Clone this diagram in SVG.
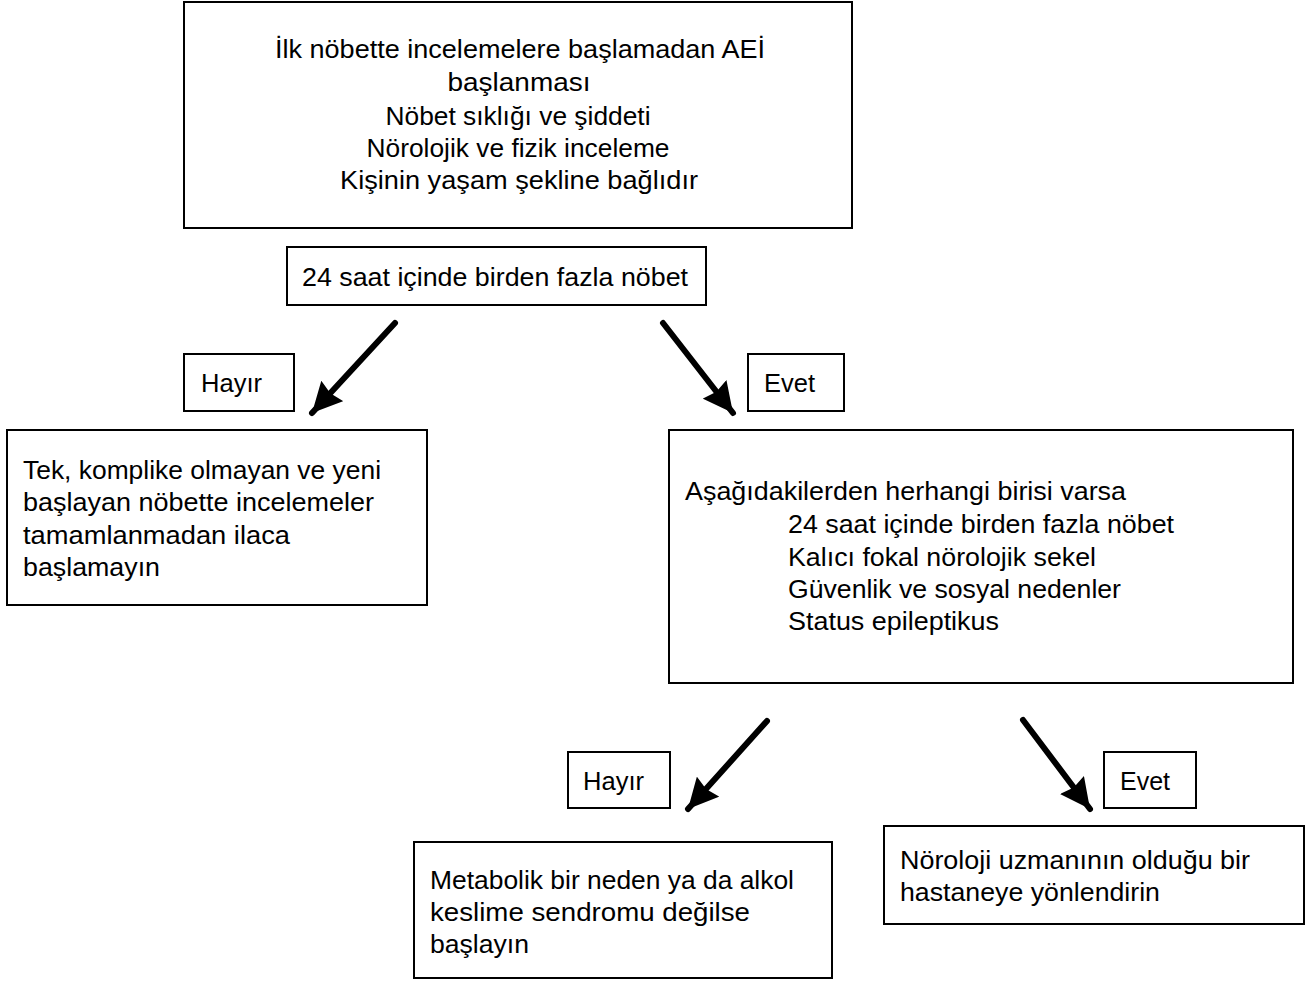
<svg xmlns="http://www.w3.org/2000/svg" width="1312" height="981" viewBox="0 0 1312 981">
  <style>
    .box { fill: #ffffff; stroke: #000000; stroke-width: 2; }
    .t { font-family: "Liberation Sans", Arial, sans-serif; font-size: 26px; fill: #000000; }
    .c { text-anchor: middle; }
    .arrow { stroke: #000000; stroke-width: 6; stroke-linecap: round; fill: none; marker-end: url(#head); }
  </style>
  <defs>
    <marker id="head" markerUnits="userSpaceOnUse" viewBox="0 0 30 30" refX="30" refY="15" markerWidth="30" markerHeight="30" orient="auto">
      <path d="M0,0 L30,15 L0,30 L3,15 z" fill="#000000"/>
    </marker>
  </defs>
  <rect width="1312" height="981" fill="#ffffff"/>

  <g id="start">
    <rect class="box" x="184" y="2" width="668" height="226"/>
    <text class="t c" x="520" y="58" textLength="490" lengthAdjust="spacingAndGlyphs">İlk nöbette incelemelere başlamadan AEİ</text>
    <text class="t c" x="519" y="91" textLength="143" lengthAdjust="spacingAndGlyphs">başlanması</text>
    <text class="t c" x="518" y="125" textLength="265" lengthAdjust="spacingAndGlyphs">Nöbet sıklığı ve şiddeti</text>
    <text class="t c" x="518" y="157" textLength="303" lengthAdjust="spacingAndGlyphs">Nörolojik ve fizik inceleme</text>
    <text class="t c" x="519" y="189" textLength="358" lengthAdjust="spacingAndGlyphs">Kişinin yaşam şekline bağlıdır</text>
  </g>

  <g id="question1">
    <rect class="box" x="287" y="247" width="419" height="58"/>
    <text class="t" x="302" y="286" textLength="386" lengthAdjust="spacingAndGlyphs">24 saat içinde birden fazla nöbet</text>
  </g>

  <g id="label-no1">
    <rect class="box" x="184" y="354" width="110" height="57"/>
    <text class="t" x="201" y="392" textLength="61" lengthAdjust="spacingAndGlyphs">Hayır</text>
  </g>

  <g id="label-yes1">
    <rect class="box" x="748" y="354" width="96" height="57"/>
    <text class="t" x="764" y="392" textLength="51" lengthAdjust="spacingAndGlyphs">Evet</text>
  </g>

  <g id="no-treatment">
    <rect class="box" x="7" y="430" width="420" height="175"/>
    <text class="t" x="23" y="479" textLength="358" lengthAdjust="spacingAndGlyphs">Tek, komplike olmayan ve yeni</text>
    <text class="t" x="23" y="511" textLength="351" lengthAdjust="spacingAndGlyphs">başlayan nöbette incelemeler</text>
    <text class="t" x="23" y="544" textLength="267" lengthAdjust="spacingAndGlyphs">tamamlanmadan ilaca</text>
    <text class="t" x="23" y="576" textLength="137" lengthAdjust="spacingAndGlyphs">başlamayın</text>
  </g>

  <g id="question2">
    <rect class="box" x="669" y="430" width="624" height="253"/>
    <text class="t" x="685" y="500" textLength="441" lengthAdjust="spacingAndGlyphs">Aşağıdakilerden herhangi birisi varsa</text>
    <text class="t" x="788" y="533" textLength="386" lengthAdjust="spacingAndGlyphs">24 saat içinde birden fazla nöbet</text>
    <text class="t" x="788" y="566" textLength="308" lengthAdjust="spacingAndGlyphs">Kalıcı fokal nörolojik sekel</text>
    <text class="t" x="788" y="598" textLength="333" lengthAdjust="spacingAndGlyphs">Güvenlik ve sosyal nedenler</text>
    <text class="t" x="788" y="630" textLength="211" lengthAdjust="spacingAndGlyphs">Status epileptikus</text>
  </g>

  <g id="label-no2">
    <rect class="box" x="568" y="752" width="102" height="56"/>
    <text class="t" x="583" y="790" textLength="61" lengthAdjust="spacingAndGlyphs">Hayır</text>
  </g>

  <g id="label-yes2">
    <rect class="box" x="1104" y="752" width="92" height="56"/>
    <text class="t" x="1120" y="790" textLength="50" lengthAdjust="spacingAndGlyphs">Evet</text>
  </g>

  <g id="start-treatment">
    <rect class="box" x="414" y="842" width="418" height="136"/>
    <text class="t" x="430" y="889" textLength="364" lengthAdjust="spacingAndGlyphs">Metabolik bir neden ya da alkol</text>
    <text class="t" x="430" y="921" textLength="320" lengthAdjust="spacingAndGlyphs">keslime sendromu değilse</text>
    <text class="t" x="430" y="953" textLength="99" lengthAdjust="spacingAndGlyphs">başlayın</text>
  </g>

  <g id="refer">
    <rect class="box" x="884" y="826" width="420" height="98"/>
    <text class="t" x="900" y="869" textLength="350" lengthAdjust="spacingAndGlyphs">Nöroloji uzmanının olduğu bir</text>
    <text class="t" x="900" y="901" textLength="260" lengthAdjust="spacingAndGlyphs">hastaneye yönlendirin</text>
  </g>

  <g id="connectors">
    <line class="arrow" x1="395" y1="323" x2="312" y2="413"/>
    <line class="arrow" x1="663" y1="323" x2="733" y2="413"/>
    <line class="arrow" x1="767" y1="721" x2="688" y2="809"/>
    <line class="arrow" x1="1023" y1="720" x2="1090" y2="809"/>
  </g>
</svg>
